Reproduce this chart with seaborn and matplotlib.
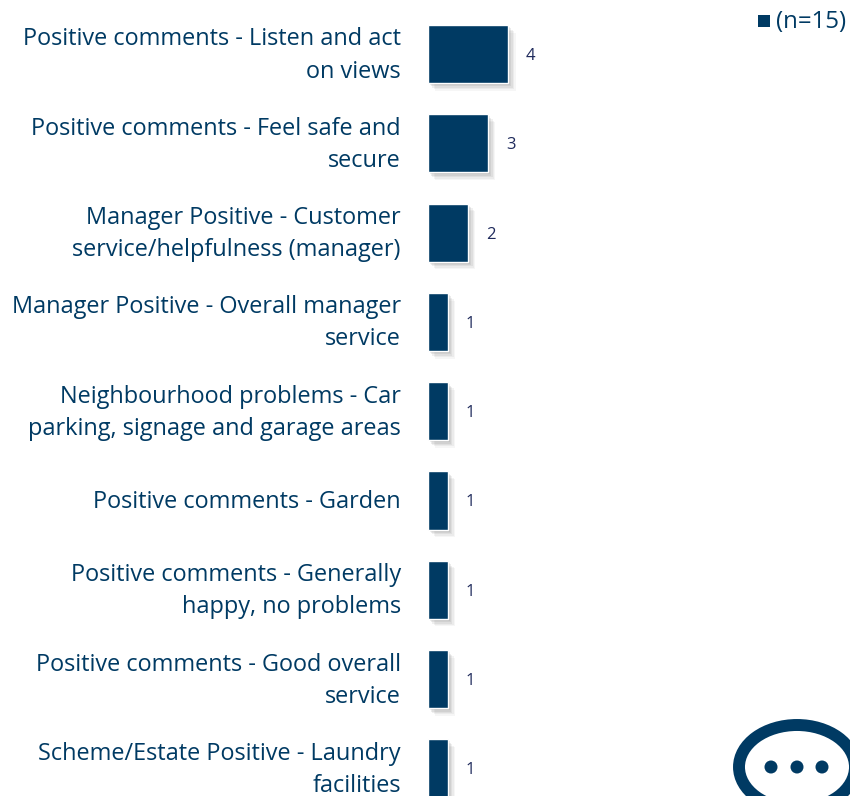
import matplotlib
matplotlib.use("Agg")
import matplotlib.pyplot as plt
import matplotlib.patheffects as pe
from matplotlib.patches import Ellipse, Circle
from matplotlib.transforms import ScaledTranslation
import pandas as pd
import seaborn as sns

categories = [
    "Positive comments - Listen and act\non views",
    "Positive comments - Feel safe and\nsecure",
    "Manager Positive - Customer\nservice/helpfulness (manager)",
    "Manager Positive - Overall manager\nservice",
    "Neighbourhood problems - Car\nparking, signage and garage areas",
    "Positive comments - Garden",
    "Positive comments - Generally\nhappy, no problems",
    "Positive comments - Good overall\nservice",
    "Scheme/Estate Positive - Laundry\nfacilities",
]
values = [4, 3, 2, 1, 1, 1, 1, 1, 1]
series_name = "(n=15)"
BAR = "#003A63"
TXT = "#003A63"
NUM = "#1F2A5C"

W, H = 850, 796
X0 = 427.5
sns.set_theme(style="white")
plt.rcParams["font.family"] = ["Open Sans", "DejaVu Sans"]
fig = plt.figure(figsize=(W / 100, H / 100), dpi=100, facecolor="white")
ax = fig.add_axes([X0 / W, 0, 1 - X0 / W, 1])

df = pd.DataFrame({"cat": categories, "val": values, "series": series_name})
sns.barplot(data=df, y="cat", x="val", hue="series", palette=[BAR], width=0.65,
            ax=ax, legend=False, saturation=1)

ax.set_xlim(0, (W - X0) / 20.1)
ax.set_ylim((796 - 54) / 89.3, -54 / 89.3)
ax.set_xlabel("")
ax.set_ylabel("")
ax.set_xticks([])
for s in ax.spines.values():
    s.set_visible(False)
ax.tick_params(axis="y", length=0, pad=19.2)
ax.set_yticks(range(len(categories)))
ax.set_yticklabels(categories, fontsize=16.95, color=TXT, linespacing=1.45, ha="right", va="center")
nudge = ScaledTranslation(0, -1.5 / 100, fig.dpi_scale_trans)
for t in ax.get_yticklabels():
    t.set_transform(t.get_transform() + nudge)

shadow = [pe.SimplePatchShadow(offset=(o, -o), shadow_rgbFace="#8c8c8c", alpha=a)
          for o, a in ((5.5, 0.07), (4.5, 0.10), (3.5, 0.13), (2.5, 0.16), (1.5, 0.18))]
for c in ax.containers:
    for p in c:
        p.set_edgecolor("white")
        p.set_linewidth(1.0)
        p.set_path_effects(shadow + [pe.Normal()])
    labels = ax.bar_label(c, labels=[str(v) for v in values], padding=13, fontsize=12, color=NUM)
    for t in labels:
        t.set_verticalalignment("center_baseline")

# legend marker + label
fig.text(776 / W, 1 - 22 / H, series_name, fontsize=17.3, color=TXT, ha="left", va="center")
fig.patches.append(plt.Rectangle((757.5 / W, 1 - 27 / H), 12 / W, 12 / H, transform=fig.transFigure,
                                 facecolor=BAR, edgecolor="none", figure=fig))

# speech bubble icon, cropped by the page edge
ov = fig.add_axes([0, 0, 1, 1], facecolor="none")
ov.set_xlim(0, W)
ov.set_ylim(H, 0)
ov.axis("off")
ov.add_patch(Ellipse((797, 767), 116, 84, facecolor="none", edgecolor=BAR, linewidth=8.6))
for x in (771, 797, 822):
    ov.add_patch(Circle((x, 767), 6.5, facecolor=BAR, edgecolor="none"))

fig.savefig("out.png", dpi=100, facecolor="white")
